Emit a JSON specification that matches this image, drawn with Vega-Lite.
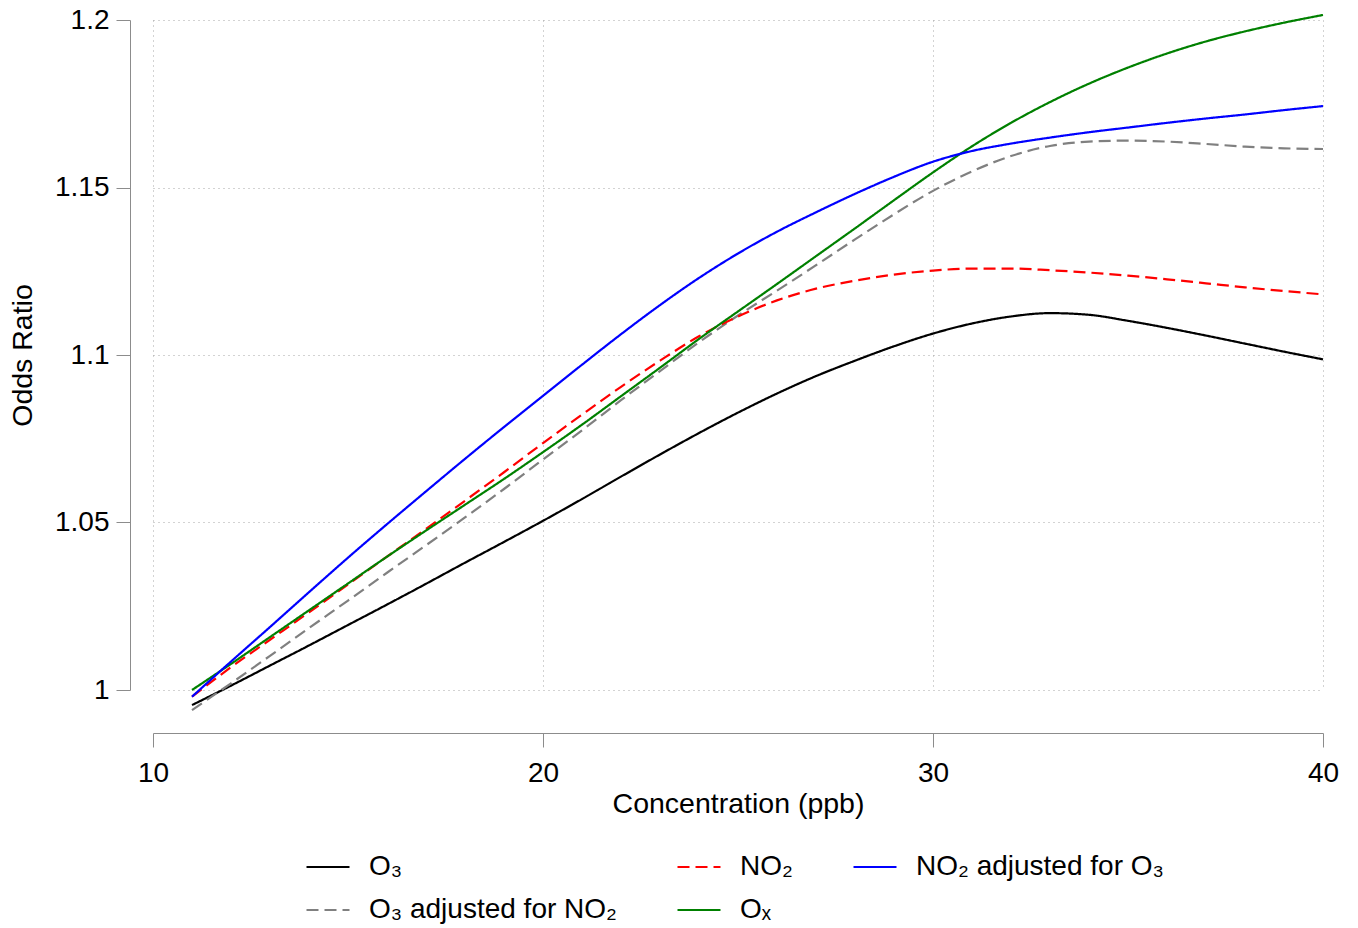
{
  "$schema": "https://vega.github.io/schema/vega-lite/v6.json",
  "width": 1170,
  "height": 670,
  "autosize": {"type": "none"},
  "padding": {"left": 153, "top": 20, "right": 35, "bottom": 238},
  "background": "white",
  "config": {"view": {"stroke": null}, "font": "Liberation Sans"},
  "datasets": {
    "curves": [
      {"conc": 11, "or": 0.9955, "series": "O₃"}, {"conc": 12, "or": 1.0013, "series": "O₃"}, {"conc": 13, "or": 1.0073, "series": "O₃"}, {"conc": 14, "or": 1.0133, "series": "O₃"}, {"conc": 15, "or": 1.0194, "series": "O₃"}, {"conc": 16, "or": 1.0255, "series": "O₃"}, {"conc": 17, "or": 1.0317, "series": "O₃"}, {"conc": 18, "or": 1.0380, "series": "O₃"}, {"conc": 19, "or": 1.0442, "series": "O₃"}, {"conc": 20, "or": 1.0505, "series": "O₃"}, {"conc": 21, "or": 1.0570, "series": "O₃"}, {"conc": 22, "or": 1.0637, "series": "O₃"}, {"conc": 23, "or": 1.0703, "series": "O₃"}, {"conc": 24, "or": 1.0767, "series": "O₃"}, {"conc": 25, "or": 1.0828, "series": "O₃"}, {"conc": 26, "or": 1.0885, "series": "O₃"}, {"conc": 27, "or": 1.0937, "series": "O₃"}, {"conc": 28, "or": 1.0983, "series": "O₃"}, {"conc": 29, "or": 1.1026, "series": "O₃"}, {"conc": 30, "or": 1.1064, "series": "O₃"}, {"conc": 31, "or": 1.1094, "series": "O₃"}, {"conc": 32, "or": 1.1115, "series": "O₃"}, {"conc": 33, "or": 1.1125, "series": "O₃"}, {"conc": 34, "or": 1.1120, "series": "O₃"}, {"conc": 35, "or": 1.1102, "series": "O₃"}, {"conc": 36, "or": 1.1081, "series": "O₃"}, {"conc": 37, "or": 1.1058, "series": "O₃"}, {"conc": 38, "or": 1.1034, "series": "O₃"}, {"conc": 39, "or": 1.1010, "series": "O₃"}, {"conc": 40, "or": 1.0987, "series": "O₃"},
      {"conc": 11, "or": 0.9940, "series": "O₃ adjusted for NO₂"}, {"conc": 12, "or": 1.0020, "series": "O₃ adjusted for NO₂"}, {"conc": 13, "or": 1.0102, "series": "O₃ adjusted for NO₂"}, {"conc": 14, "or": 1.0185, "series": "O₃ adjusted for NO₂"}, {"conc": 15, "or": 1.0267, "series": "O₃ adjusted for NO₂"}, {"conc": 16, "or": 1.0350, "series": "O₃ adjusted for NO₂"}, {"conc": 17, "or": 1.0432, "series": "O₃ adjusted for NO₂"}, {"conc": 18, "or": 1.0515, "series": "O₃ adjusted for NO₂"}, {"conc": 19, "or": 1.0600, "series": "O₃ adjusted for NO₂"}, {"conc": 20, "or": 1.0688, "series": "O₃ adjusted for NO₂"}, {"conc": 21, "or": 1.0775, "series": "O₃ adjusted for NO₂"}, {"conc": 22, "or": 1.0865, "series": "O₃ adjusted for NO₂"}, {"conc": 23, "or": 1.0952, "series": "O₃ adjusted for NO₂"}, {"conc": 24, "or": 1.1038, "series": "O₃ adjusted for NO₂"}, {"conc": 25, "or": 1.1118, "series": "O₃ adjusted for NO₂"}, {"conc": 26, "or": 1.1192, "series": "O₃ adjusted for NO₂"}, {"conc": 27, "or": 1.1268, "series": "O₃ adjusted for NO₂"}, {"conc": 28, "or": 1.1345, "series": "O₃ adjusted for NO₂"}, {"conc": 29, "or": 1.1420, "series": "O₃ adjusted for NO₂"}, {"conc": 30, "or": 1.1490, "series": "O₃ adjusted for NO₂"}, {"conc": 31, "or": 1.1548, "series": "O₃ adjusted for NO₂"}, {"conc": 32, "or": 1.1594, "series": "O₃ adjusted for NO₂"}, {"conc": 33, "or": 1.1624, "series": "O₃ adjusted for NO₂"}, {"conc": 34, "or": 1.1637, "series": "O₃ adjusted for NO₂"}, {"conc": 35, "or": 1.1640, "series": "O₃ adjusted for NO₂"}, {"conc": 36, "or": 1.1637, "series": "O₃ adjusted for NO₂"}, {"conc": 37, "or": 1.1630, "series": "O₃ adjusted for NO₂"}, {"conc": 38, "or": 1.1622, "series": "O₃ adjusted for NO₂"}, {"conc": 39, "or": 1.1617, "series": "O₃ adjusted for NO₂"}, {"conc": 40, "or": 1.1615, "series": "O₃ adjusted for NO₂"},
      {"conc": 11, "or": 0.9980, "series": "NO₂"}, {"conc": 12, "or": 1.0068, "series": "NO₂"}, {"conc": 13, "or": 1.0150, "series": "NO₂"}, {"conc": 14, "or": 1.0232, "series": "NO₂"}, {"conc": 15, "or": 1.0315, "series": "NO₂"}, {"conc": 16, "or": 1.0398, "series": "NO₂"}, {"conc": 17, "or": 1.0481, "series": "NO₂"}, {"conc": 18, "or": 1.0565, "series": "NO₂"}, {"conc": 19, "or": 1.0650, "series": "NO₂"}, {"conc": 20, "or": 1.0737, "series": "NO₂"}, {"conc": 21, "or": 1.0822, "series": "NO₂"}, {"conc": 22, "or": 1.0905, "series": "NO₂"}, {"conc": 23, "or": 1.0983, "series": "NO₂"}, {"conc": 24, "or": 1.1056, "series": "NO₂"}, {"conc": 25, "or": 1.1115, "series": "NO₂"}, {"conc": 26, "or": 1.1163, "series": "NO₂"}, {"conc": 27, "or": 1.1198, "series": "NO₂"}, {"conc": 28, "or": 1.1222, "series": "NO₂"}, {"conc": 29, "or": 1.1240, "series": "NO₂"}, {"conc": 30, "or": 1.1252, "series": "NO₂"}, {"conc": 31, "or": 1.1258, "series": "NO₂"}, {"conc": 32, "or": 1.1258, "series": "NO₂"}, {"conc": 33, "or": 1.1253, "series": "NO₂"}, {"conc": 34, "or": 1.1246, "series": "NO₂"}, {"conc": 35, "or": 1.1237, "series": "NO₂"}, {"conc": 36, "or": 1.1226, "series": "NO₂"}, {"conc": 37, "or": 1.1214, "series": "NO₂"}, {"conc": 38, "or": 1.1202, "series": "NO₂"}, {"conc": 39, "or": 1.1191, "series": "NO₂"}, {"conc": 40, "or": 1.1181, "series": "NO₂"},
      {"conc": 11, "or": 1.0000, "series": "Oₓ"}, {"conc": 12, "or": 1.0078, "series": "Oₓ"}, {"conc": 13, "or": 1.0158, "series": "Oₓ"}, {"conc": 14, "or": 1.0238, "series": "Oₓ"}, {"conc": 15, "or": 1.0318, "series": "Oₓ"}, {"conc": 16, "or": 1.0398, "series": "Oₓ"}, {"conc": 17, "or": 1.0476, "series": "Oₓ"}, {"conc": 18, "or": 1.0553, "series": "Oₓ"}, {"conc": 19, "or": 1.0630, "series": "Oₓ"}, {"conc": 20, "or": 1.0710, "series": "Oₓ"}, {"conc": 21, "or": 1.0792, "series": "Oₓ"}, {"conc": 22, "or": 1.0877, "series": "Oₓ"}, {"conc": 23, "or": 1.0962, "series": "Oₓ"}, {"conc": 24, "or": 1.1048, "series": "Oₓ"}, {"conc": 25, "or": 1.1130, "series": "Oₓ"}, {"conc": 26, "or": 1.1212, "series": "Oₓ"}, {"conc": 27, "or": 1.1295, "series": "Oₓ"}, {"conc": 28, "or": 1.1378, "series": "Oₓ"}, {"conc": 29, "or": 1.1462, "series": "Oₓ"}, {"conc": 30, "or": 1.1545, "series": "Oₓ"}, {"conc": 31, "or": 1.1623, "series": "Oₓ"}, {"conc": 32, "or": 1.1693, "series": "Oₓ"}, {"conc": 33, "or": 1.1755, "series": "Oₓ"}, {"conc": 34, "or": 1.1810, "series": "Oₓ"}, {"conc": 35, "or": 1.1858, "series": "Oₓ"}, {"conc": 36, "or": 1.1900, "series": "Oₓ"}, {"conc": 37, "or": 1.1936, "series": "Oₓ"}, {"conc": 38, "or": 1.1966, "series": "Oₓ"}, {"conc": 39, "or": 1.1992, "series": "Oₓ"}, {"conc": 40, "or": 1.2015, "series": "Oₓ"},
      {"conc": 11, "or": 0.9980, "series": "NO₂ adjusted for O₃"}, {"conc": 12, "or": 1.0085, "series": "NO₂ adjusted for O₃"}, {"conc": 13, "or": 1.0188, "series": "NO₂ adjusted for O₃"}, {"conc": 14, "or": 1.0292, "series": "NO₂ adjusted for O₃"}, {"conc": 15, "or": 1.0395, "series": "NO₂ adjusted for O₃"}, {"conc": 16, "or": 1.0495, "series": "NO₂ adjusted for O₃"}, {"conc": 17, "or": 1.0593, "series": "NO₂ adjusted for O₃"}, {"conc": 18, "or": 1.0690, "series": "NO₂ adjusted for O₃"}, {"conc": 19, "or": 1.0785, "series": "NO₂ adjusted for O₃"}, {"conc": 20, "or": 1.0878, "series": "NO₂ adjusted for O₃"}, {"conc": 21, "or": 1.0971, "series": "NO₂ adjusted for O₃"}, {"conc": 22, "or": 1.1062, "series": "NO₂ adjusted for O₃"}, {"conc": 23, "or": 1.1149, "series": "NO₂ adjusted for O₃"}, {"conc": 24, "or": 1.1230, "series": "NO₂ adjusted for O₃"}, {"conc": 25, "or": 1.1303, "series": "NO₂ adjusted for O₃"}, {"conc": 26, "or": 1.1368, "series": "NO₂ adjusted for O₃"}, {"conc": 27, "or": 1.1426, "series": "NO₂ adjusted for O₃"}, {"conc": 28, "or": 1.1481, "series": "NO₂ adjusted for O₃"}, {"conc": 29, "or": 1.1532, "series": "NO₂ adjusted for O₃"}, {"conc": 30, "or": 1.1577, "series": "NO₂ adjusted for O₃"}, {"conc": 31, "or": 1.1609, "series": "NO₂ adjusted for O₃"}, {"conc": 32, "or": 1.1631, "series": "NO₂ adjusted for O₃"}, {"conc": 33, "or": 1.1649, "series": "NO₂ adjusted for O₃"}, {"conc": 34, "or": 1.1665, "series": "NO₂ adjusted for O₃"}, {"conc": 35, "or": 1.1679, "series": "NO₂ adjusted for O₃"}, {"conc": 36, "or": 1.1693, "series": "NO₂ adjusted for O₃"}, {"conc": 37, "or": 1.1706, "series": "NO₂ adjusted for O₃"}, {"conc": 38, "or": 1.1718, "series": "NO₂ adjusted for O₃"}, {"conc": 39, "or": 1.1731, "series": "NO₂ adjusted for O₃"}, {"conc": 40, "or": 1.1743, "series": "NO₂ adjusted for O₃"}
    ]
  },
  "data": {"name": "curves"},
  "mark": {"type": "line", "strokeWidth": 2.2, "interpolate": "monotone"},
  "encoding": {
    "x": {
      "field": "conc", "type": "quantitative",
      "scale": {"domain": [10, 40], "nice": false, "zero": false},
      "axis": {
        "values": [10, 20, 30, 40], "title": "Concentration (ppb)", "offset": 43,
        "grid": true, "gridDash": [1, 4], "gridColor": "#a6a6a6", "gridWidth": 1,
        "domainColor": "#8c8c8c", "tickColor": "#8c8c8c", "tickSize": 14, "domainWidth": 1, "tickWidth": 1,
        "labelFont": "Liberation Sans", "labelFontSize": 28, "labelColor": "#000000", "labelPadding": 12,
        "labelFlush": false, "labelOverlap": false,
        "titleFont": "Liberation Sans", "titleFontSize": 28.5, "titleFontWeight": "normal", "titleColor": "#000000", "titlePadding": 2
      }
    },
    "y": {
      "field": "or", "type": "quantitative",
      "scale": {"domain": [1, 1.2], "nice": false, "zero": false},
      "axis": {
        "values": [1, 1.05, 1.1, 1.15, 1.2], "format": "~g", "title": "Odds Ratio", "offset": 23,
        "grid": true, "gridDash": [1, 4], "gridColor": "#a6a6a6", "gridWidth": 1,
        "domainColor": "#8c8c8c", "tickColor": "#8c8c8c", "tickSize": 14, "domainWidth": 1, "tickWidth": 1,
        "labelFont": "Liberation Sans", "labelFontSize": 28, "labelColor": "#000000", "labelPadding": 7,
        "labelFlush": false, "labelOverlap": false,
        "titleFont": "Liberation Sans", "titleFontSize": 28.5, "titleFontWeight": "normal", "titleColor": "#000000", "titlePadding": 17
      }
    },
    "color": {
      "field": "series", "type": "nominal",
      "scale": {
        "domain": ["O₃", "NO₂", "NO₂ adjusted for O₃", "O₃ adjusted for NO₂", "Oₓ"],
        "range": ["#000000", "#ff0000", "#0000ff", "#808080", "#008000"]
      },
      "legend": {
        "title": null, "orient": "none", "legendX": 152, "legendY": 824, "columns": 3, "direction": "horizontal",
        "symbolType": "stroke", "symbolSize": 1849, "symbolStrokeWidth": 2.2,
        "labelFont": "Liberation Sans", "labelFontSize": 28, "labelColor": "#000000", "labelOffset": 18, "labelLimit": 0,
        "columnPadding": 56, "rowPadding": 6, "padding": 0
      }
    },
    "strokeDash": {
      "field": "series", "type": "nominal",
      "scale": {
        "domain": ["O₃", "NO₂", "NO₂ adjusted for O₃", "O₃ adjusted for NO₂", "Oₓ"],
        "range": [[1, 0], [12, 6], [1, 0], [12, 6], [1, 0]]
      },
      "legend": {
        "title": null, "orient": "none", "legendX": 152, "legendY": 824, "columns": 3, "direction": "horizontal",
        "symbolType": "stroke", "symbolSize": 1849, "symbolStrokeWidth": 2.2,
        "labelFont": "Liberation Sans", "labelFontSize": 28, "labelColor": "#000000", "labelOffset": 18, "labelLimit": 0,
        "columnPadding": 56, "rowPadding": 6, "padding": 0
      }
    }
  }
}
